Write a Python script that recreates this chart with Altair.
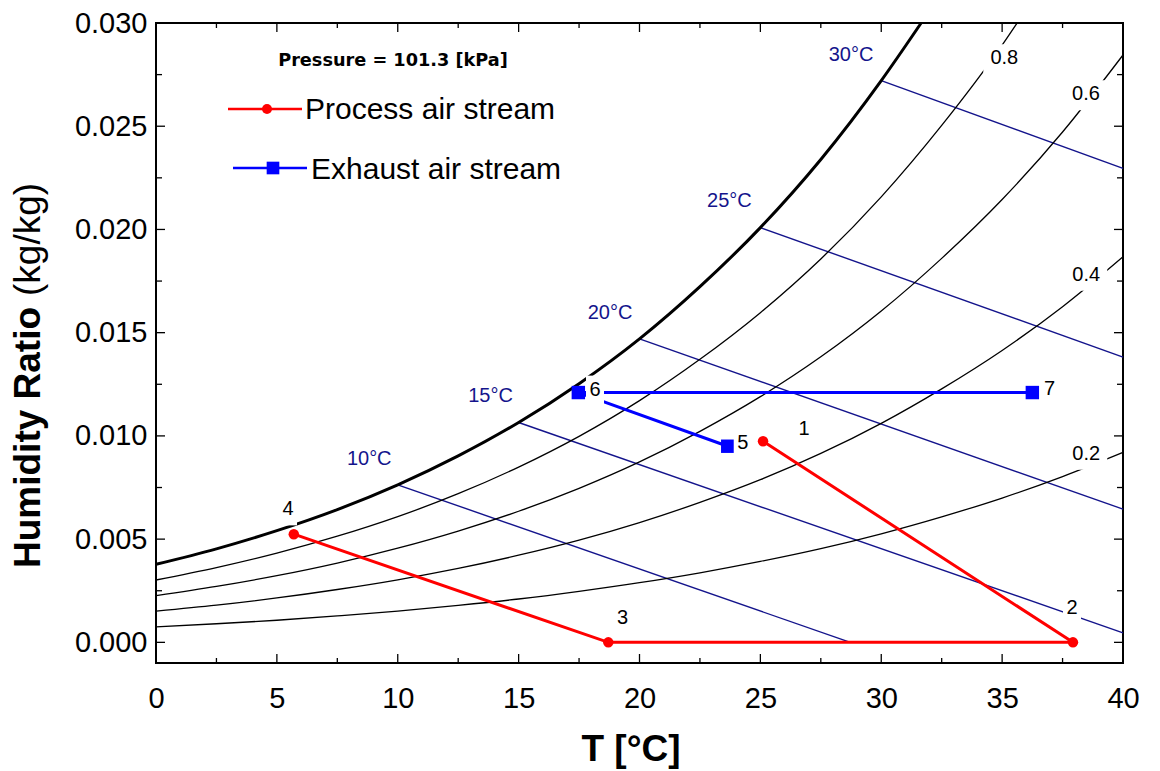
import altair as alt
import pandas as pd

# ---------------- data ----------------
x_major = [0, 5, 10, 15, 20, 25, 30, 35, 40]
x_minor = [2.5, 7.5, 12.5, 17.5, 22.5, 27.5, 32.5, 37.5]
y_major = [0.000, 0.005, 0.010, 0.015, 0.020, 0.025, 0.030]
y_minor = [0.0025, 0.0075, 0.0125, 0.0175, 0.0225, 0.0275]

# saturation curve
sat_T = [0, 2.5, 5, 7.5, 10, 12.5, 15, 17.5, 20, 22.5, 25, 27.5, 30, 31.65]
sat_W = [0.00378, 0.00453, 0.00541, 0.00643, 0.00763, 0.00903, 0.01065,
         0.01253, 0.01470, 0.01723, 0.02009, 0.02339, 0.02721, 0.03000]

# relative humidity curves
rh_T = [0, 2.5, 5, 7.5, 10, 12.5, 15, 17.5, 20, 22.5, 25, 27.5, 30, 32.5, 35, 37.5, 40]
rh80_T = [0, 2.5, 5, 7.5, 10, 12.5, 15, 17.5, 20, 22.5, 25, 27.5, 30, 32.5, 35, 35.62]
rh80_W = [0.00302, 0.00362, 0.00432, 0.00514, 0.00609, 0.00720, 0.00849, 0.00998,
          0.01171, 0.01371, 0.01597, 0.01857, 0.02158, 0.02504, 0.02893, 0.03000]
rh60_W = [0.00226, 0.00271, 0.00323, 0.00384, 0.00456, 0.00539, 0.00635, 0.00746,
          0.00874, 0.01022, 0.01190, 0.01383, 0.01605, 0.01860, 0.02145, 0.02472, 0.02845]
rh40_W = [0.00151, 0.00180, 0.00215, 0.00256, 0.00303, 0.00358, 0.00422, 0.00495,
          0.00580, 0.00678, 0.00788, 0.00915, 0.01061, 0.01228, 0.01414, 0.01626, 0.01868]
rh20_W = [0.00075, 0.00090, 0.00107, 0.00128, 0.00151, 0.00179, 0.00210, 0.00247,
          0.00289, 0.00337, 0.00392, 0.00454, 0.00526, 0.00608, 0.00699, 0.00803, 0.00920]

# wet-bulb lines (start on saturation curve, end at chart edge)
wb_names = ["10°C", "15°C", "20°C", "25°C", "30°C"]
wb_T1 = [10, 15, 20, 25, 30]
wb_W1 = [0.00763, 0.01065, 0.01470, 0.02009, 0.02721]
wb_T2 = [28.72, 40, 40, 40, 40]
wb_W2 = [0.0, 0.00046, 0.00645, 0.01382, 0.02296]
wb_label_T = [8.82, 13.84, 18.78, 23.72, 28.75]
wb_label_W = [0.00895, 0.01197, 0.01600, 0.02141, 0.02848]

# RH labels
rh_labels = ["0.8", "0.6", "0.4", "0.2"]
rh_label_T = [35.09, 38.47, 38.48, 38.48]
rh_label_W = [0.02834, 0.02660, 0.01786, 0.00918]

# process air stream (states 1-2-3-4)
proc_T = [25.11, 37.93, 18.71, 5.70]
proc_W = [0.00974, 0.0, 0.0, 0.00524]
# exhaust air stream (states 5-6-7)
exh_T = [23.65, 17.47, 36.25]
exh_W = [0.0095, 0.0121, 0.0121]

# state labels
st_labels = ["1", "2", "3", "4", "5", "6", "7"]
st_label_T = [26.81, 37.89, 19.30, 5.46, 24.27, 18.16, 36.96]
st_label_W = [0.01037, 0.00169, 0.00124, 0.00649, 0.00971, 0.01229, 0.01234]

# ---------------- frames ----------------
sat_df = pd.DataFrame({"T": sat_T, "W": sat_W})
rh_df = pd.concat([
    pd.DataFrame({"T": rh80_T, "W": rh80_W, "c": "0.8"}),
    pd.DataFrame({"T": rh_T, "W": rh60_W, "c": "0.6"}),
    pd.DataFrame({"T": rh_T, "W": rh40_W, "c": "0.4"}),
    pd.DataFrame({"T": rh_T, "W": rh20_W, "c": "0.2"}),
])
wb_df = pd.DataFrame({"T": wb_T1, "W": wb_W1, "T2": wb_T2, "W2": wb_W2})
wb_lab_df = pd.DataFrame({"T": wb_label_T, "W": wb_label_W, "text": wb_names})
rh_lab_df = pd.DataFrame({"T": rh_label_T, "W": rh_label_W, "text": rh_labels})
proc_df = pd.DataFrame({"T": proc_T, "W": proc_W, "o": list(range(len(proc_T)))})
exh_df = pd.DataFrame({"T": exh_T, "W": exh_W, "o": list(range(len(exh_T)))})
st_df = pd.DataFrame({"T": st_label_T, "W": st_label_W, "text": st_labels})

W_PLOT, H_PLOT = 967, 640
FONT = "Liberation Sans"
NAVY = "#14148c"

xs = alt.Scale(domain=[0, 40], nice=False, zero=False)
ys = alt.Scale(domain=[-0.001, 0.030], nice=False, zero=False)
ax_x = alt.Axis(values=x_major, title=None, ticks=False, domain=False, grid=False,
                labelFontSize=29, labelFont=FONT, labelColor="black", labelPadding=21,
                labelFlush=False, labelOverlap=False)
ax_y = alt.Axis(values=y_major, format=".3f", title=None, ticks=False, domain=False, grid=False,
                labelFontSize=29, labelFont=FONT, labelColor="black", labelPadding=9,
                labelFlush=False, labelOverlap=False)


def X(f="T"):
    return alt.X(f"{f}:Q", scale=xs, axis=ax_x)


def Y(f="W"):
    return alt.Y(f"{f}:Q", scale=ys, axis=ax_y)


layers = []

# tick marks (inward, all four sides)
xmaj = pd.DataFrame({"T": x_major})
xmin = pd.DataFrame({"T": x_minor})
ymaj = pd.DataFrame({"W": y_major})
ymin = pd.DataFrame({"W": y_minor})
tk = dict(color="black", strokeWidth=1.3)
layers += [
    alt.Chart(xmaj).mark_rule(**tk).encode(x=X(), y=alt.value(H_PLOT), y2=alt.value(H_PLOT - 9)),
    alt.Chart(xmin).mark_rule(**tk).encode(x=X(), y=alt.value(H_PLOT), y2=alt.value(H_PLOT - 5)),
    alt.Chart(xmaj).mark_rule(**tk).encode(x=X(), y=alt.value(0), y2=alt.value(9)),
    alt.Chart(xmin).mark_rule(**tk).encode(x=X(), y=alt.value(0), y2=alt.value(5)),
    alt.Chart(ymaj).mark_rule(**tk).encode(y=Y(), x=alt.value(0), x2=alt.value(9)),
    alt.Chart(ymin).mark_rule(**tk).encode(y=Y(), x=alt.value(0), x2=alt.value(6)),
    alt.Chart(ymaj).mark_rule(**tk).encode(y=Y(), x=alt.value(W_PLOT), x2=alt.value(W_PLOT - 9)),
    alt.Chart(ymin).mark_rule(**tk).encode(y=Y(), x=alt.value(W_PLOT), x2=alt.value(W_PLOT - 6)),
]

# wet-bulb lines
layers.append(alt.Chart(wb_df).mark_rule(color=NAVY, strokeWidth=1.4).encode(
    x=X(), y=Y(), x2="T2:Q", y2="W2:Q"))
# RH curves
layers.append(alt.Chart(rh_df).mark_line(color="black", strokeWidth=1.3, interpolate="monotone").encode(
    x=X(), y=Y(), detail="c:N"))
# saturation curve
layers.append(alt.Chart(sat_df).mark_line(color="black", strokeWidth=3, interpolate="monotone").encode(
    x=X(), y=Y()))
# process / exhaust streams
layers.append(alt.Chart(proc_df).mark_line(color="#ff0000", strokeWidth=3).encode(
    x=X(), y=Y(), order="o:Q"))
layers.append(alt.Chart(exh_df).mark_line(color="#0000ff", strokeWidth=3).encode(
    x=X(), y=Y(), order="o:Q"))
layers.append(alt.Chart(proc_df).mark_point(shape="circle", filled=True, size=110, opacity=1,
                                            color="#ff0000").encode(x=X(), y=Y()))
layers.append(alt.Chart(exh_df).mark_point(shape="square", filled=True, size=180, opacity=1,
                                           color="#0000ff").encode(x=X(), y=Y()))

# white label boxes
layers.append(alt.Chart(st_df).mark_point(shape="M-9,-13L9,-13L9,17L-9,17Z", size=4, filled=True,
                                          opacity=1, color="white", strokeWidth=0).encode(x=X(), y=Y()))
layers.append(alt.Chart(rh_lab_df).mark_point(shape="M-21,-13L21,-13L21,17L-21,17Z", size=4, filled=True,
                                              opacity=1, color="white", strokeWidth=0).encode(x=X(), y=Y()))

# labels
layers.append(alt.Chart(st_df).mark_text(font=FONT, fontSize=20, color="black", dy=1,
                                         align="center", baseline="middle").encode(x=X(), y=Y(), text="text:N"))
layers.append(alt.Chart(rh_lab_df).mark_text(font=FONT, fontSize=20, color="black", dy=1,
                                             align="center", baseline="middle").encode(x=X(), y=Y(), text="text:N"))
layers.append(alt.Chart(wb_lab_df).mark_text(font=FONT, fontSize=20, color=NAVY, dy=1,
                                             align="center", baseline="middle").encode(x=X(), y=Y(), text="text:N"))

# legend (drawn inside the plot)
one = pd.DataFrame({"k": [0]})
layers += [
    alt.Chart(one).mark_text(text="Pressure = 101.3 [kPa]", font="DejaVu Sans", fontWeight="bold",
                             fontSize=17.7, color="black", align="center", baseline="middle").encode(
        x=alt.value(237), y=alt.value(38)),
    alt.Chart(one).mark_rule(color="#ff0000", strokeWidth=2.5).encode(
        x=alt.value(72), x2=alt.value(146), y=alt.value(86)),
    alt.Chart(one).mark_point(shape="circle", filled=True, size=100, opacity=1, color="#ff0000").encode(
        x=alt.value(111), y=alt.value(86)),
    alt.Chart(one).mark_text(text="Process air stream", font=FONT, fontSize=30, color="black",
                             align="left", baseline="middle").encode(x=alt.value(149), y=alt.value(87)),
    alt.Chart(one).mark_rule(color="#0000ff", strokeWidth=2.5).encode(
        x=alt.value(77), x2=alt.value(151), y=alt.value(145)),
    alt.Chart(one).mark_point(shape="square", filled=True, size=160, opacity=1, color="#0000ff").encode(
        x=alt.value(117), y=alt.value(145)),
    alt.Chart(one).mark_text(text="Exhaust air stream", font=FONT, fontSize=30, color="black",
                             align="left", baseline="middle").encode(x=alt.value(155), y=alt.value(147)),
]

# axis titles
layers += [
    alt.Chart(one).mark_text(text="Humidity Ratio", font=FONT, fontWeight="bold", fontSize=37, angle=270,
                             color="black", align="left", baseline="alphabetic").encode(
        x=alt.value(-116), y=alt.value(545)),
    alt.Chart(one).mark_text(text="(kg/kg)", font=FONT, fontSize=37, angle=270,
                             color="black", align="left", baseline="alphabetic").encode(
        x=alt.value(-116), y=alt.value(273)),
    alt.Chart(one).mark_text(text="T [°C]", font=FONT, fontWeight="bold", fontSize=37,
                             color="black", align="center", baseline="alphabetic").encode(
        x=alt.value(475), y=alt.value(738)),
]

chart = alt.layer(*layers).properties(
    width=W_PLOT, height=H_PLOT,
    autosize=alt.AutoSizeParams(type="none"),
    padding={"left": 156, "top": 23, "right": 1160 - 156 - W_PLOT, "bottom": 771 - 23 - H_PLOT},
    background="white",
).configure_view(stroke="black", strokeWidth=2)

chart.save("out.html", embed_options={"renderer": "svg", "actions": False})
